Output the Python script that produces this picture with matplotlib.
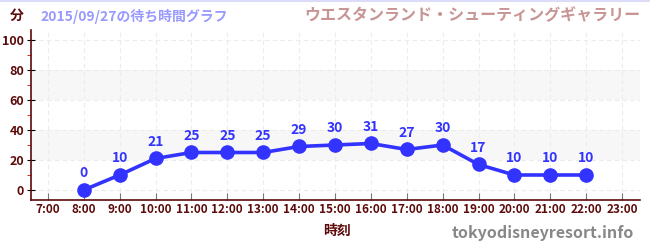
import matplotlib
matplotlib.use("Agg")
import matplotlib.pyplot as plt
from matplotlib.lines import Line2D

plt.rcParams['font.family'] = ['Noto Sans CJK JP', 'DejaVu Sans']

hours = [8, 9, 10, 11, 12, 13, 14, 15, 16, 17, 18, 19, 20, 21, 22]
waits = [0, 10, 21, 25, 25, 25, 29, 30, 31, 27, 30, 17, 10, 10, 10]
xticks = list(range(7, 24))
xlabels = [f"{h}:00" for h in xticks]
yticks = [0, 20, 40, 60, 80, 100]

DARK = '#5c0a0a'
BLUE = '#3333ff'

fig = plt.figure(figsize=(6.5, 2.5), dpi=100)
ax = fig.add_axes([31/650, 50/250, 609/650, 170/250])
ax.set_xlim(6.53, 23.5)
ax.set_ylim(-6.67, 106.67)

for lo, hi in [(20, 40), (60, 80)]:
    ax.axhspan(lo, hi, color='#f7f7f7', zorder=0, lw=0)
for y in yticks:
    ax.axhline(y, color='#ececec', lw=0.8, ls=(0, (4, 3)), zorder=1)
for x in xticks:
    ax.axvline(x, color='#ececec', lw=0.8, ls=(0, (4, 3)), zorder=1)

ax.plot(hours, waits, color=BLUE, lw=2.6, marker='o', ms=9.5, zorder=3)
for h, w in zip(hours, waits):
    ax.annotate(str(w), (h, w), xytext=(0, 7), textcoords='offset points',
                ha='center', va='bottom', color=BLUE, fontsize=10, fontweight='bold')

for s in ['top', 'right']:
    ax.spines[s].set_visible(False)
ax.spines['left'].set_color(DARK)
ax.spines['bottom'].set_color(DARK)
ax.spines['left'].set_linewidth(1.2)
ax.spines['bottom'].set_linewidth(1.2)

ax.set_yticks(yticks)
ax.set_yticks([10, 30, 50, 70, 90], minor=True)
ax.tick_params(axis='y', which='major', direction='inout', length=6, color='black',
               labelcolor=DARK, labelsize=9, pad=2)
ax.tick_params(axis='y', which='minor', direction='out', length=3, color='#dd0000')
ax.set_yticklabels([str(v) for v in yticks], fontweight='bold')
ax.set_xticks(xticks)
ax.set_xticklabels(xlabels, fontweight='bold')
ax.tick_params(axis='x', direction='in', length=5, color='#777777',
               labelcolor=DARK, labelsize=8.5, pad=2)

fig.text(337/650, 1 - 231/250, '時刻', ha='center', va='center', color=DARK,
         fontsize=10, fontweight='bold')
fig.text(10/650, 1 - 16/250, '分', ha='left', va='center', color=DARK,
         fontsize=10, fontweight='bold')
fig.text(40/650, 1 - 16/250, '2015/09/27の待ち時間グラフ', ha='left', va='center',
         color='#9999ff', fontsize=10, fontweight='bold')
fig.text(640/650, 1 - 15/250, 'ウエスタンランド・シューティングギャラリー', ha='right',
         va='center', color='#c89494', fontsize=11.5, fontweight='bold')
fig.text(634/650, 1 - 233/250, 'tokyodisneyresort.info', ha='right', va='center',
         color='#888888', fontsize=11.5, fontweight='bold')
fig.add_artist(Line2D([0, 1], [0.998, 0.998], transform=fig.transFigure,
                      color='#dcdcf8', lw=1.5))

fig.savefig('out.png', dpi=100)
